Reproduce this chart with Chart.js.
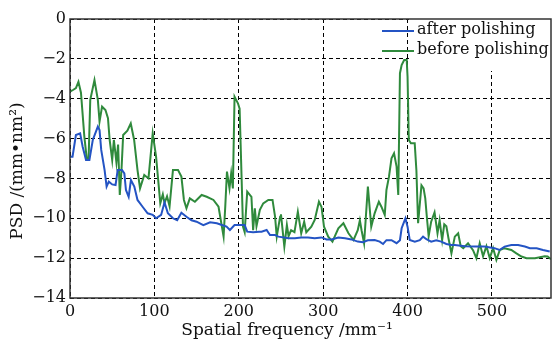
<!DOCTYPE html>
<html>
<head>
<meta charset="utf-8">
<script src="https://cdn.jsdelivr.net/npm/chart.js@4.4.0/dist/chart.umd.min.js"></script>
<style>
  html, body { margin: 0; padding: 0; background: #fff; }
  #chartPsd { display: block; }
</style>
</head>
<body>
<canvas id="chartPsd" width="553" height="347"></canvas>
<script>
// PSD curves (x: spatial frequency /mm^-1, y: log PSD)
const freqAfter = [0, 3, 7, 12, 15, 19, 23, 27, 33, 35, 37, 41, 43.4, 46, 50, 54, 56.5, 61.6, 64.4, 66.3, 69.5, 72.2, 76.2, 80, 86, 92, 98, 102, 108, 112, 116, 122, 127, 132, 138, 144, 150, 158, 166, 174, 180, 185.5, 189.5, 195, 201, 207, 210, 217, 224, 227, 233, 237, 243, 247, 259, 266.5, 274, 282, 290, 298, 304, 310, 318, 326, 333.5, 341, 347, 353, 361, 367, 371, 375, 381, 387, 391, 393, 397.5, 400, 402.6, 408.6, 414.5, 418.4, 422.4, 428, 434, 440, 446, 452, 456, 468, 480, 491, 503, 509, 515, 523, 531, 539, 545, 553, 560.5, 568.5];
const psdAfter = [-6.91, -6.91, -5.82, -5.74, -6.41, -7.07, -7.07, -6.07, -5.4, -5.57, -6.57, -7.58, -8.41, -8.16, -8.3, -8.33, -7.58, -7.58, -7.75, -8.58, -8.92, -8.08, -8.41, -9.08, -9.42, -9.75, -9.83, -10.0, -9.83, -9.2, -9.75, -10.0, -10.1, -9.72, -9.92, -10.1, -10.17, -10.34, -10.2, -10.25, -10.34, -10.42, -10.59, -10.34, -10.34, -10.34, -10.67, -10.7, -10.67, -10.67, -10.59, -10.84, -10.84, -10.92, -11.0, -11.0, -10.96, -10.96, -11.0, -10.96, -11.06, -11.06, -10.96, -11.0, -11.06, -11.17, -11.2, -11.1, -11.09, -11.17, -11.29, -11.1, -11.1, -11.25, -11.1, -10.5, -10.0, -10.42, -11.09, -11.17, -11.1, -10.92, -11.05, -11.17, -11.1, -11.17, -11.29, -11.34, -11.34, -11.4, -11.42, -11.42, -11.5, -11.59, -11.42, -11.34, -11.34, -11.42, -11.5, -11.5, -11.59, -11.67];

const freqBefore = [0, 4, 7, 10, 13, 17, 20, 22, 24, 29, 33, 35, 38, 42, 45, 47, 50, 52, 55, 57, 59, 61, 63, 68, 72, 76, 80, 83, 88, 93, 98, 102, 107, 110, 112, 115, 118, 122, 128, 132, 135, 138, 142, 148, 156, 162, 170, 176, 180, 182, 184, 186, 189, 191, 193, 195, 199, 201, 205, 207, 210, 215, 217, 219, 221, 225, 229, 235, 240, 243, 245, 249, 250, 254, 257, 259, 262, 266, 270, 274, 277.5, 280, 286, 290, 295, 298, 301, 306, 311, 318, 324, 330, 336, 341, 343.5, 345.5, 348.5, 353, 355, 357, 361, 366, 369, 373, 375, 378, 381, 384, 387, 389, 391, 393, 396, 399, 400, 401.5, 404, 408.5, 410.5, 412.5, 416.5, 419, 421, 423, 425, 428, 432, 435.5, 438, 441, 443.5, 446, 448.5, 452, 456, 460, 463, 466, 471.7, 477.6, 481.6, 485.5, 489.5, 493.5, 497.4, 501.4, 505.3, 509.3, 515, 523, 529, 535, 541, 551, 562.5, 566, 570];
const psdBefore = [-3.65, -3.55, -3.47, -3.15, -3.7, -5.9, -7.07, -7.07, -4.06, -3.06, -4.06, -5.15, -4.4, -4.57, -4.98, -6.07, -7.07, -6.07, -7.2, -6.3, -8.83, -7.58, -5.82, -5.6, -5.24, -6.07, -7.58, -8.5, -7.83, -8.0, -5.74, -6.91, -9.25, -8.8, -9.24, -8.9, -9.4, -7.58, -7.58, -7.91, -9.08, -9.5, -9.0, -9.17, -8.83, -8.92, -9.08, -9.42, -10.42, -10.92, -9.4, -7.66, -8.5, -7.75, -8.5, -3.9, -4.23, -4.5, -10.42, -10.7, -8.66, -8.92, -10.6, -9.5, -10.4, -9.58, -9.25, -9.08, -9.08, -9.92, -10.92, -9.92, -9.8, -11.42, -10.34, -10.9, -10.6, -10.7, -9.67, -10.75, -10.17, -10.7, -10.42, -10.08, -9.17, -9.42, -10.42, -10.92, -11.17, -10.5, -10.25, -10.75, -11.09, -10.6, -10.1, -10.6, -11.25, -8.41, -9.42, -10.42, -9.75, -9.17, -9.42, -9.83, -8.58, -7.91, -6.99, -6.74, -7.41, -8.83, -2.72, -2.31, -2.06, -2.06, -2.89, -6.07, -6.24, -6.24, -7.6, -10.25, -8.35, -8.5, -9.0, -10.0, -10.9, -10.17, -9.7, -10.75, -10.1, -11.09, -10.3, -10.4, -11.0, -11.76, -10.92, -10.75, -11.4, -11.5, -11.25, -11.6, -12.0, -11.25, -11.9, -11.4, -12.0, -11.5, -12.09, -11.59, -11.5, -11.59, -11.76, -11.92, -12.0, -12.0, -11.9, -11.92, -12.05];

const seriesNames = ["after polishing", "before polishing"];
const seriesColors = ["#2454c4", "#2f8a3c"];
const xTicks = [0, 100, 200, 300, 400, 500];
const xLabel = "Spatial frequency /mm\u207B\u00B9";
const yLabel = "PSD /(mm\u2022nm\u00B2)";

const fontFamily = "'DejaVu Serif', 'Liberation Serif', serif";

function toPoints(xs, ys) {
    return xs.map((x, i) => ({ x: x, y: ys[i] }));
}

// white box behind the legend, then legend + axis titles + frame
const decorPlugin = {
    id: "decor",
    beforeDatasetsDraw(chart) {
        const ctx = chart.ctx;
        const a = chart.chartArea;
        ctx.save();
        ctx.fillStyle = "#fff";
        ctx.fillRect(a.left + 339, a.top, a.right - a.left - 339, 52);
        ctx.restore();
    },
    afterDraw(chart) {
        const ctx = chart.ctx;
        const a = chart.chartArea;
        ctx.save();

        // legend
        ctx.font = "16px " + fontFamily;
        ctx.textBaseline = "middle";
        ctx.textAlign = "left";
        seriesNames.forEach((name, i) => {
            let y = a.top + 12 + i * 20;
            ctx.strokeStyle = seriesColors[i];
            ctx.lineWidth = 2;
            ctx.beginPath();
            ctx.moveTo(a.left + 312, y);
            ctx.lineTo(a.left + 344, y);
            ctx.stroke();
            ctx.fillStyle = "#111";
            ctx.fillText(name, a.left + 347, y - 1);
        });

        // frame
        ctx.strokeStyle = "#333";
        ctx.lineWidth = 1.5;
        ctx.strokeRect(a.left, a.top, a.right - a.left, a.bottom - a.top);

        // axis titles
        ctx.fillStyle = "#111";
        ctx.font = "17px " + fontFamily;
        ctx.textAlign = "center";
        ctx.fillText(xLabel, 287, 331);
        ctx.translate(18, 171);
        ctx.rotate(-Math.PI / 2);
        ctx.fillText(yLabel, 0, 0);
        ctx.restore();
    }
};

function createChart(element) {
    const gridOpts = {
        color: "#000",
        lineWidth: 1,
        drawTicks: false,
        borderDash: [4, 3]
    };
    new Chart(element, {
        type: "line",
        data: {
            datasets: [
                {
                    label: seriesNames[0],
                    data: toPoints(freqAfter, psdAfter),
                    borderColor: seriesColors[0],
                    borderWidth: 2,
                    pointRadius: 0,
                    tension: 0
                },
                {
                    label: seriesNames[1],
                    data: toPoints(freqBefore, psdBefore),
                    borderColor: seriesColors[1],
                    borderWidth: 2,
                    pointRadius: 0,
                    tension: 0
                }
            ]
        },
        options: {
            responsive: false,
            animation: false,
            devicePixelRatio: 1,
            layout: { padding: { top: 19, right: 2, left: 0, bottom: 0 } },
            plugins: {
                legend: { display: false },
                tooltip: { enabled: false }
            },
            scales: {
                x: {
                    type: "linear",
                    min: 0,
                    max: 570,
                    afterBuildTicks: (scale) => {
                        scale.ticks = xTicks.map(v => ({ value: v }));
                    },
                    afterFit: (scale) => { scale.height = 49; },
                    grid: gridOpts,
                    border: { display: false, dash: [4, 3] },
                    ticks: {
                        color: "#111",
                        padding: 4,
                        maxRotation: 0,
                        font: { family: fontFamily, size: 16 }
                    }
                },
                y: {
                    min: -14,
                    max: 0,
                    afterFit: (scale) => { scale.width = 70; },
                    grid: gridOpts,
                    border: { display: false, dash: [4, 3] },
                    ticks: {
                        stepSize: 2,
                        color: "#111",
                        padding: 4,
                        font: { family: fontFamily, size: 16 },
                        callback: (v) => String(v).replace("-", "\u2212")
                    }
                }
            }
        },
        plugins: [decorPlugin]
    });
}

createChart(document.getElementById("chartPsd"));
</script>
</body>
</html>
